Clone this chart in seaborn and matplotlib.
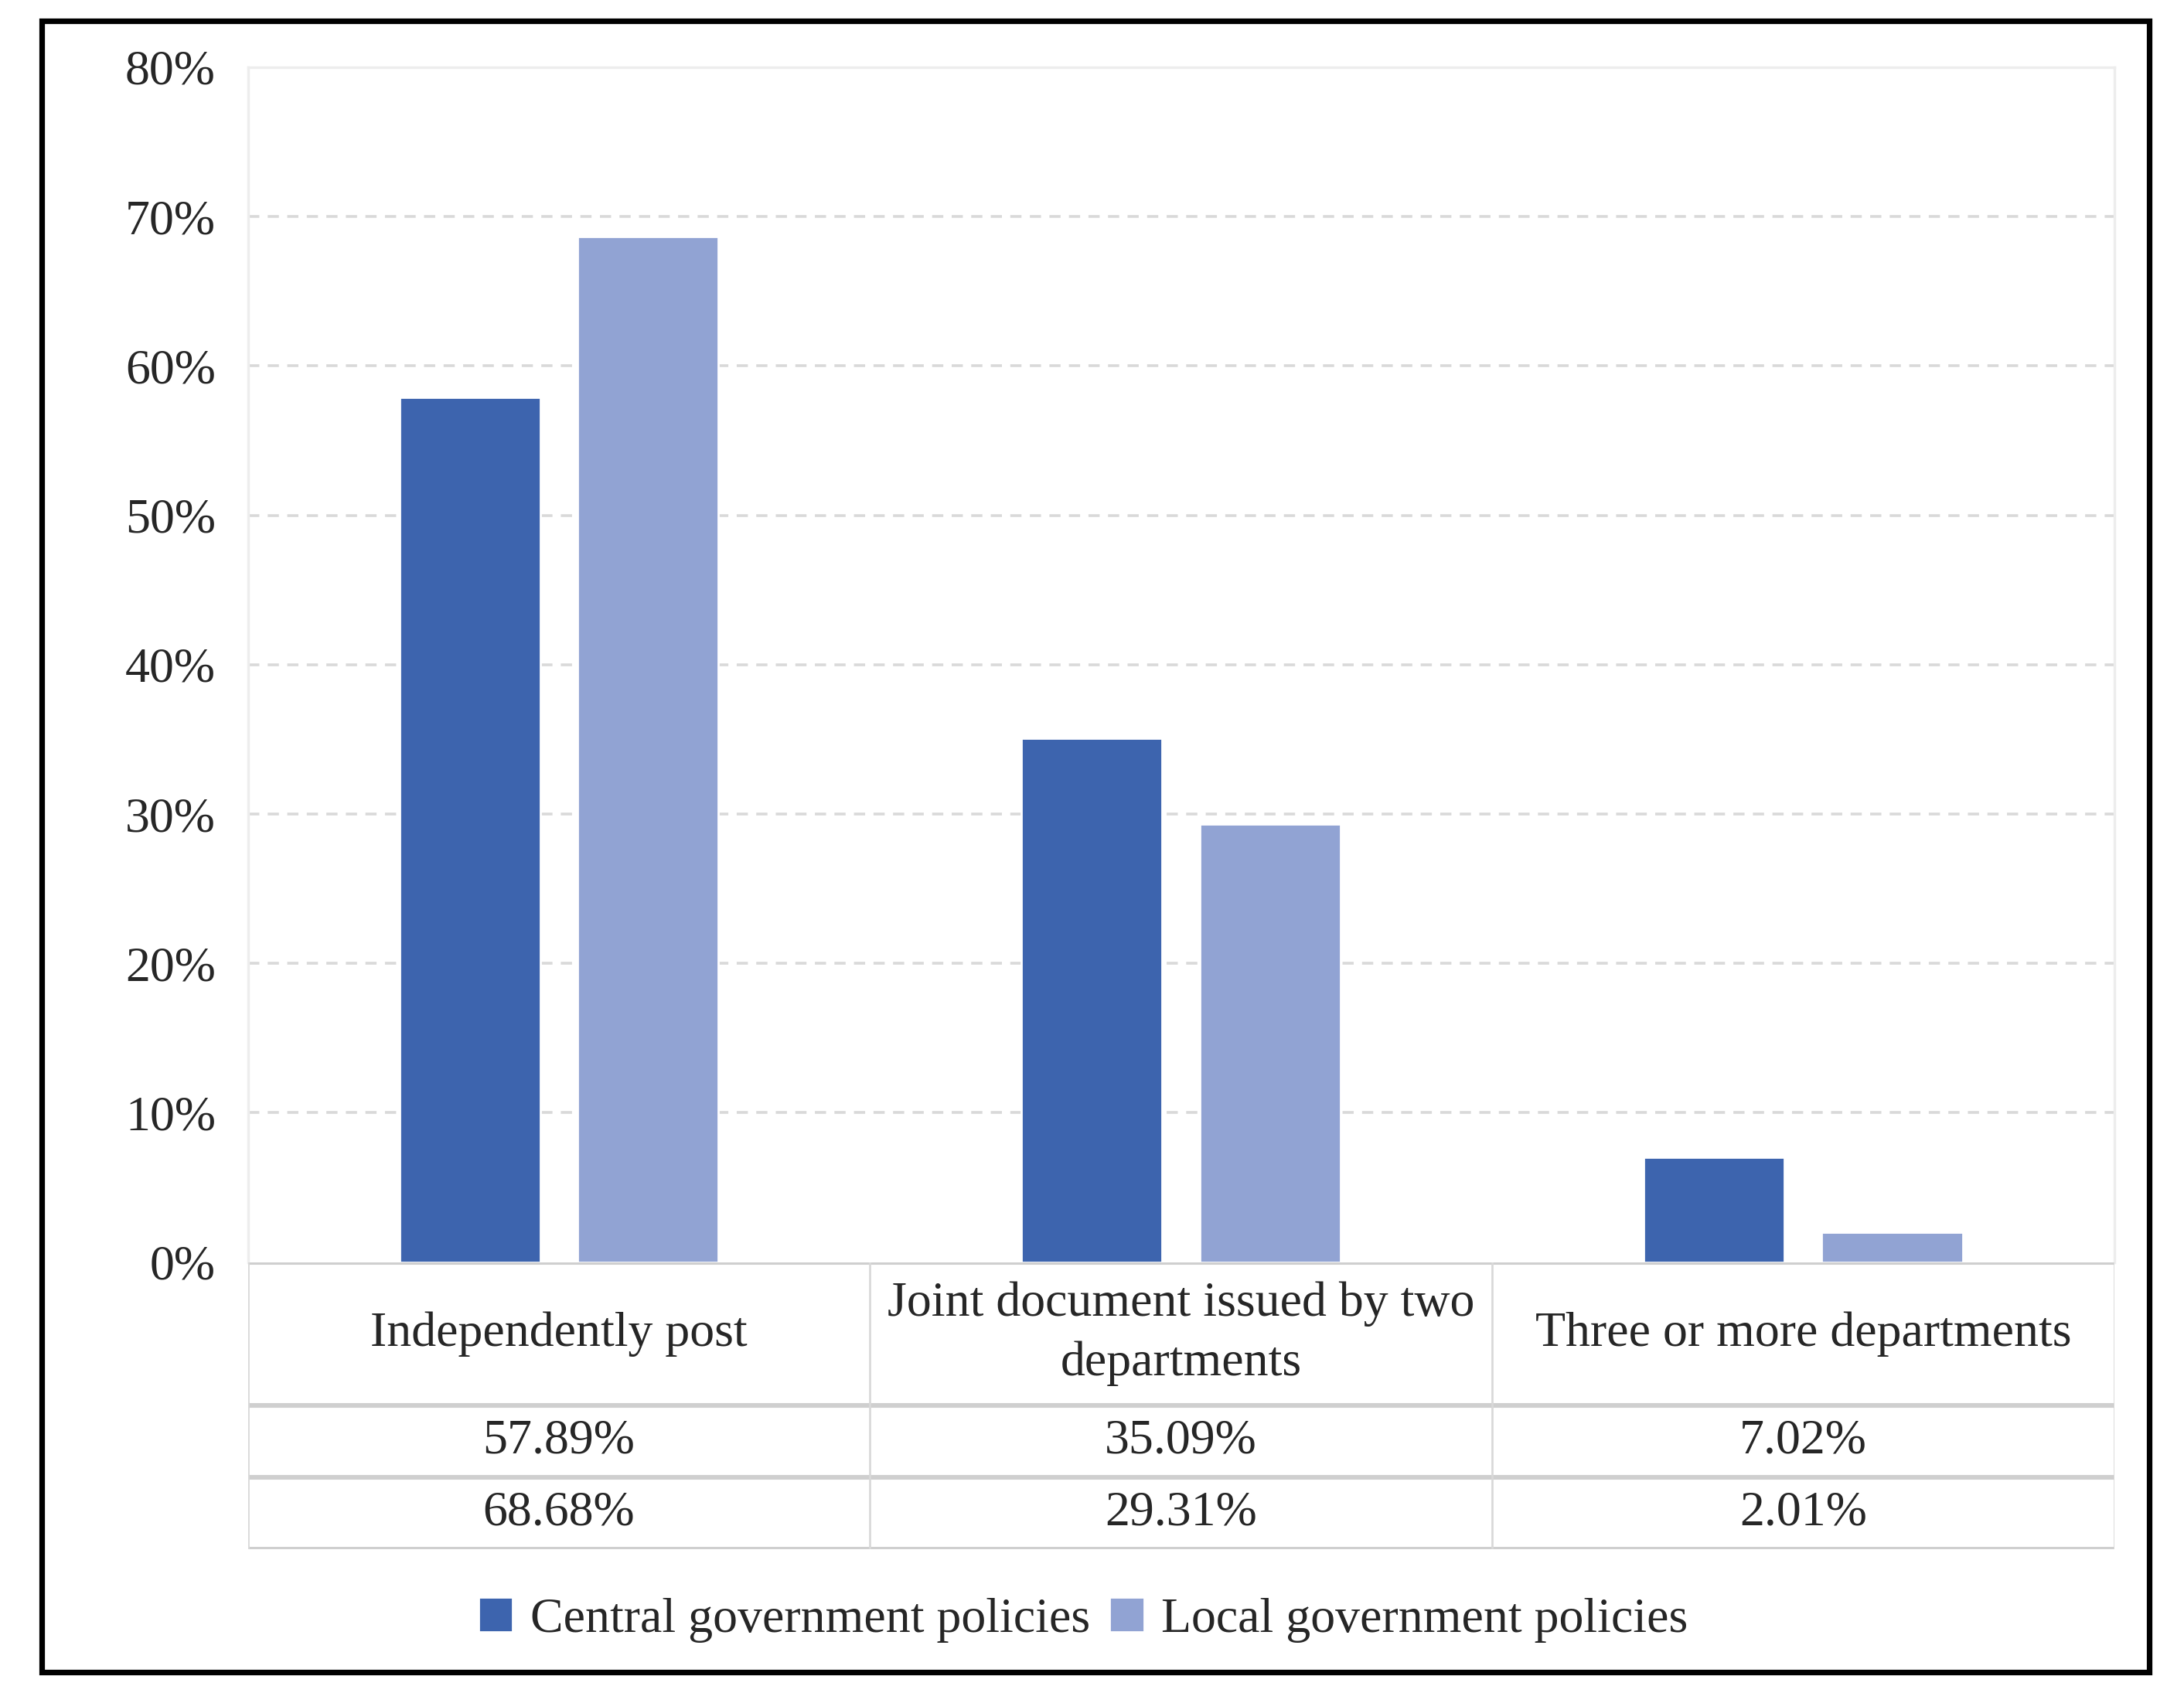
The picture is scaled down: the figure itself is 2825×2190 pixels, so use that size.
import pandas as pd
import matplotlib.pyplot as plt
import matplotlib.patches as mpatches
import seaborn as sns

# data
categories = ['Independently post', 'Joint document issued by two\ndepartments', 'Three or more departments']
central = [57.89, 35.09, 7.02]
local = [68.68, 29.31, 2.01]
series_names = ['Central government policies', 'Local government policies']
yticks = [0, 10, 20, 30, 40, 50, 60, 70, 80]

df = pd.DataFrame({
    'cat': categories * 2,
    'value': central + local,
    'series': [series_names[0]] * 3 + [series_names[1]] * 3,
})

sns.set_style('white')
plt.rcParams['font.family'] = ['Liberation Serif', 'DejaVu Serif']
FS = 23

fig = plt.figure(figsize=(14.125, 10.95), dpi=200)
ax = fig.add_axes([0.1135, 0.2545, 0.8545, 0.7058])
tab = fig.add_axes([0.1135, 0.0851, 0.8545, 0.1694])

sns.barplot(data=df, x='cat', y='value', hue='series', palette=['#3D64AE', '#91A3D3'],
            width=0.573, gap=0.21, ax=ax, saturation=1)

ax.set_xlim(-0.5, 2.5)
ax.set_ylim(0, 80)
ax.set_yticks(yticks)
ax.set_yticklabels([f'{t}%' for t in yticks], fontsize=FS)
ax.tick_params(axis='y', length=0, pad=15)
ax.set_xticks([])
ax.set_xlabel('')
ax.set_ylabel('')
for t in yticks[1:-1]:
    ax.axhline(t, color='#D9D9D9', lw=1.3, ls=(0, (4, 3)), zorder=0)
for s in ['top', 'left', 'right']:
    ax.spines[s].set_color('#EDEDED')
    ax.spines[s].set_linewidth(1.2)
ax.spines['bottom'].set_visible(False)

# legend below the table
handles, labels = ax.get_legend_handles_labels()
ax.get_legend().remove()
fig.legend(handles, labels, loc='center', bbox_to_anchor=(0.496, 0.043), ncol=2, frameon=False,
           fontsize=FS, handlelength=0.7, handleheight=0.7, handletextpad=0.35, columnspacing=0.4)

# data table under the bars
tab.set_xlim(-0.5, 2.5)
tab.set_ylim(0, 4)
tab.axis('off')
row_edges = [4, 2, 1, 0]
for y in row_edges:
    tab.axhline(y, color='#CFCFCF', lw=2.2)
for x in [-0.5, 0.5, 1.5, 2.5]:
    tab.axvline(x, color='#D9D9D9', lw=1.0)
for i, c in enumerate(categories):
    tab.text(i, 3, c, ha='center', va='center', fontsize=FS, linespacing=1.4)
    tab.text(i, 1.5, f'{central[i]:.2f}%', ha='center', va='center', fontsize=FS)
    tab.text(i, 0.5, f'{local[i]:.2f}%', ha='center', va='center', fontsize=FS)

# outer black frame
fig.patches.append(mpatches.Rectangle((0.0192, 0.0124), 0.9648, 0.9752, transform=fig.transFigure,
                                      fill=False, edgecolor='black', lw=2.6))

fig.savefig('out.png', dpi=200)
